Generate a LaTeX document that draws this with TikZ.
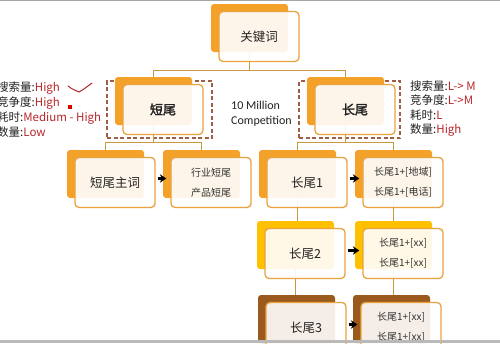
\documentclass[tikz,border=0pt]{standalone}
\usepackage{fontspec}
\setmainfont{Noto Sans CJK SC}
\newfontfamily\calfont{Carlito}
\newfontfamily\boldcjk[FakeBold=2]{Noto Sans CJK SC}
\usetikzlibrary{arrows.meta}
\definecolor{orng}{HTML}{F4A12A}
\definecolor{framec}{HTML}{EAA23E}
\definecolor{connc}{HTML}{C9983F}
\definecolor{dashc}{HTML}{9E5E46}
\definecolor{goldc}{HTML}{FFC000}
\definecolor{brwn}{HTML}{9A5A1E}
\definecolor{redt}{HTML}{B8262A}
\definecolor{txt}{HTML}{222222}
\begin{document}
\begin{tikzpicture}[x=1pt,y=-1pt,
  backbox/.style={rounded corners=3pt, inner sep=0pt, minimum width=77pt, minimum height=48pt},
  frontbox/.style={draw=framec, line width=1.3pt, rounded corners=4pt, fill=white, fill opacity=0.9, text opacity=1, inner sep=0pt, minimum width=80pt, minimum height=50pt, text=txt, align=center, font=\fontsize{12.5}{15}\selectfont},
  small/.style={font=\fontsize{10}{20}\selectfont, text=black!80},
  dashbox/.style={draw=dashc, line width=1.2pt, dash pattern=on 4pt off 2.5pt, inner sep=0pt},
  conn/.style={draw=connc, line width=1.4pt},
  arr/.style={-{Stealth[length=6.5pt,width=8.5pt]}, line width=2.3pt, black},
  lab/.style={inner sep=0pt, font=\fontsize{11.5}{14}\selectfont, text=txt},
  fr/.style={shift={(9.5,8.5)}}]
\useasboundingbox (0,0) rectangle (500,343);
\fill[white] (0,0) rectangle (500,343);

% dashed frames
\node[dashbox, minimum width=105pt, minimum height=57pt] (sd) at (159.5,109.5) {};
\node[dashbox, minimum width=101pt, minimum height=57pt] (ld) at (349.5,109.5) {};

% back rectangles
\node[backbox, fill=orng] (kwb) at (249.5,28) {};
\node[backbox, fill=orng] (sb) at (153.5,101) {};
\node[backbox, fill=orng] (lb) at (345.5,101) {};
\node[backbox, fill=orng] (swb) at (105.5,174) {};
\node[backbox, fill=orng] (hyb) at (201.5,174) {};
\node[backbox, fill=orng] (l1b) at (297.5,174) {};
\node[backbox, fill=orng] (l1rb) at (393.5,174) {};
\node[backbox, fill=goldc] (l2b) at (295.5,245) {};
\node[backbox, fill=goldc] (l2rb) at (393.5,245) {};
\node[backbox, fill=brwn] (l3b) at (296.5,319) {};
\node[backbox, fill=brwn] (l3rb) at (391.5,319) {};

% connectors
\draw[conn] (kwb.south) -- ++(0,18) -| (sb.north);
\draw[conn] (kwb.south) -- ++(0,18) -| (lb.north);
\draw[conn] (sb.south) -- ++(0,17) -| (swb.north);
\draw[conn] (sb.south) -- ++(0,17) -| (hyb.north);
\draw[conn] (lb.south) -- ++(0,17) -| (l1b.north);
\draw[conn] (lb.south) -- ++(0,17) -| (l1rb.north);
\draw[conn] (l1b.south) -- (l1b.south |- l2b.north);
\draw[conn] (l1rb.south) -- (l1rb.south |- l2rb.north);
\draw[conn] (l2b.south) -- (l2b.south |- l3b.north);
\draw[conn] (l2rb.south) -- (l2rb.south |- l3rb.north);

% front boxes
\node[frontbox] (kw) at ([fr]kwb.center) {关键词};
\node[frontbox, font=\fontsize{13}{15}\boldcjk] (s) at ([fr]sb.center) {短尾};
\node[frontbox, font=\fontsize{13}{15}\boldcjk] (l) at ([fr]lb.center) {长尾};
\node[frontbox] (sw) at ([fr]swb.center) {短尾主词};
\node[frontbox, small] (hy) at ([fr]hyb.center) {行业短尾\\产品短尾};
\node[frontbox] (l1) at ([fr]l1b.center) {长尾1};
\node[frontbox, small] (l1r) at ([fr]l1rb.center) {长尾1+[地域]\\长尾1+[电话]};
\node[frontbox] (l2) at ([fr]l2b.center) {长尾2};
\node[frontbox, small] (l2r) at ([fr]l2rb.center) {长尾1+[xx]\\长尾1+[xx]};
\node[frontbox] (l3) at ([fr]l3b.center) {长尾3};
\node[frontbox, small] (l3r) at ([fr]l3rb.center) {长尾1+[xx]\\长尾1+[xx]};

% arrows
\draw[arr] ([xshift=2pt,yshift=4pt]sw.east) -- ([xshift=-4pt,yshift=4pt]hy.west);
\draw[arr] ([xshift=2pt,yshift=4pt]l1.east) -- ([xshift=-3pt,yshift=4pt]l1r.west);
\draw[arr] ([xshift=2pt,yshift=3pt]l2.east) -- ([xshift=-3pt,yshift=3pt]l2r.west);
\draw[arr] ([xshift=2pt,yshift=3pt]l3.east) -- ([xshift=-3pt,yshift=3pt]l3r.west);

% middle text
\node[lab, anchor=base west, font=\fontsize{12}{14}\calfont] (m1) at (231,109) {10 Million};
\node[lab, anchor=base west, font=\fontsize{12}{14}\calfont] (m2) at (231,124) {Competition};

% left labels
\node[lab, anchor=base west] (a1) at (-3,91) {搜索量:\textcolor{redt}{High}};
\node[lab, anchor=base west] (a2) at (-3,106) {竞争度:\textcolor{redt}{High}};
\node[lab, anchor=base west] (a3) at (-3,121) {耗时:\textcolor{redt}{Medium - High}};
\node[lab, anchor=base west] (a4) at (-3,136) {数量:\textcolor{redt}{Low}};

% right labels
\node[lab, anchor=base west] (b1) at (410,90) {搜索量:\textcolor{redt}{L-> M}};
\node[lab, anchor=base west] (b2) at (410,104.5) {竞争度:\textcolor{redt}{L->M}};
\node[lab, anchor=base west] (b3) at (410,119) {耗时:\textcolor{redt}{L}};
\node[lab, anchor=base west] (b4) at (410,133.5) {数量:\textcolor{redt}{High}};

% red marks
\draw[redt, line width=1pt, line cap=round] (68,86) .. controls (72,89) .. (79,92) .. controls (84,89) .. (92,83);
\fill[red!85!black] (68,105) rectangle (71.5,108.5);

% frame edges
\fill[gray!70] (0,0) rectangle (500,1.2);
\fill[gray!55] (0,340) rectangle (500,343);
\end{tikzpicture}
\end{document}
